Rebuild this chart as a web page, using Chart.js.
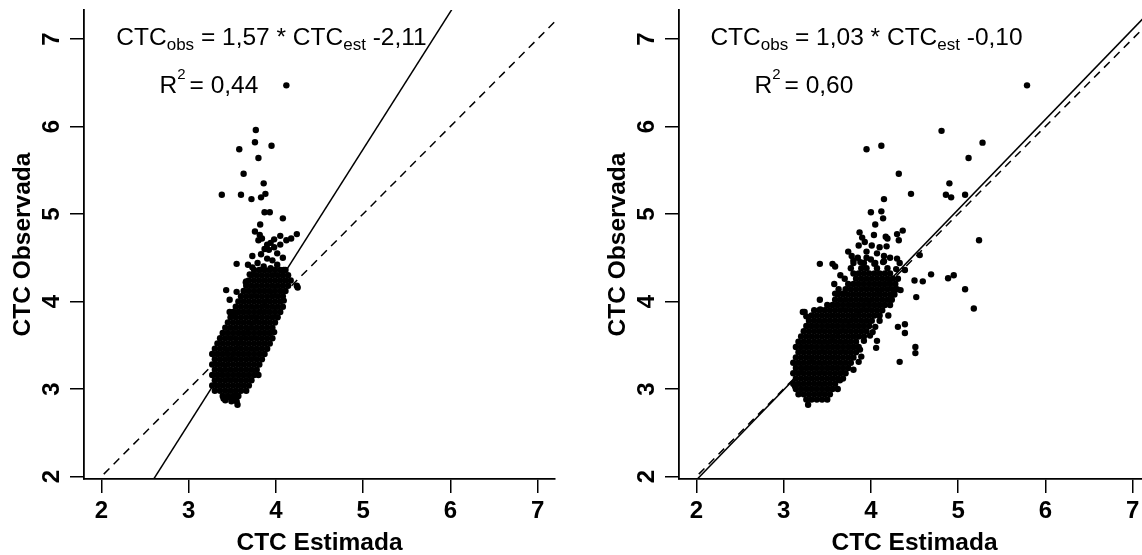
<!DOCTYPE html>
<html><head><meta charset="utf-8">
<script src="https://cdn.jsdelivr.net/npm/chart.js@4.4.0/dist/chart.umd.min.js"></script>
<style>
html,body{margin:0;padding:0;background:#fff;width:1142px;height:555px;overflow:hidden;}
.panel{position:absolute;top:0;width:600px;height:555px;}
#p1{left:0px} #p2{left:595px}
</style></head><body>
<div class="panel" id="p1"><canvas id="c1" width="600" height="555"></canvas></div>
<div class="panel" id="p2"><canvas id="c2" width="600" height="555"></canvas></div>
<script>
// ---- tick labels / titles ----
const xTicks = [2, 3, 4, 5, 6, 7];
const yTicks = [2, 3, 4, 5, 6, 7];
const xTitle = 'CTC Estimada';
const yTitle = 'CTC Observada';
const xRange = [1.8, 7.2];
const yRange = [1.971, 7.331];

// ---- regression fits (left, right) ----
const fitSlopes = [1.57, 1.03];
const fitIntercepts = [-2.11, -0.10];
const slopeLabels = ['1,57', '1,03'];
const interceptLabels = ['-2,11', '-0,10'];
const r2Labels = ['0,44', '0,60'];
const eqPos = [3.95, 6.928];
const r2Pos = [3.232, 6.386];

// ---- left panel points [CTC estimada, CTC observada] ----
const leftPoints = [
[4.12,6.47],[3.77,5.96],[3.76,5.82],[3.58,5.74],[3.95,5.78],[3.80,5.64],[3.63,5.46],[3.86,5.35],
[3.38,5.22],[3.60,5.22],[3.72,5.17],[3.83,5.19],[3.88,5.23],[3.87,5.02],[3.93,5.02],[4.08,4.95],[3.82,4.88],
[3.76,4.80],[3.815,4.76],[3.84,4.72],[3.80,4.70],[4.24,4.77],[4.175,4.72],[4.12,4.70],[4.05,4.75],[3.98,4.71],
[3.90,4.65],[3.94,4.67],[3.98,4.62],[4.05,4.65],[3.92,4.59],[4.015,4.55],[3.73,4.52],[3.83,4.54],[3.90,4.49],
[3.96,4.47],[3.55,4.43],[3.68,4.42],[3.73,4.39],[3.79,4.44],[3.86,4.40],[3.94,4.38],[4.015,4.42],[4.09,4.36],
[3.70,4.31],[3.655,4.22],[3.87,4.60],[4.08,4.50],
[3.47,4.02],[3.55,4.11],[3.47,3.88],[3.52,3.87],[3.66,4.23],[4.25,4.16],[4.24,4.18],[3.40,2.89],[3.48,2.90],
[3.54,2.92],[3.80,3.16],[3.43,4.13],[3.56,2.82],[3.42,2.87],[3.49,2.86],[3.55,2.86],
[3.39,2.92],[3.45,2.92],[3.51,2.92],[3.57,2.92],
[3.30,2.98],[3.36,2.98],[3.42,2.98],[3.48,2.98],[3.54,2.98],[3.60,2.98],[3.66,2.98],
[3.27,3.04],[3.33,3.04],[3.39,3.04],[3.45,3.04],[3.51,3.04],[3.57,3.04],[3.63,3.04],[3.69,3.04],
[3.30,3.10],[3.36,3.10],[3.42,3.10],[3.48,3.10],[3.54,3.10],[3.60,3.10],[3.66,3.10],[3.72,3.10],
[3.27,3.16],[3.33,3.16],[3.39,3.16],[3.45,3.16],[3.51,3.16],[3.57,3.16],[3.63,3.16],[3.69,3.16],[3.75,3.16],
[3.30,3.22],[3.36,3.22],[3.42,3.22],[3.48,3.22],[3.54,3.22],[3.60,3.22],[3.66,3.22],[3.72,3.22],[3.78,3.22],
[3.27,3.28],[3.33,3.28],[3.39,3.28],[3.45,3.28],[3.51,3.28],[3.57,3.28],[3.63,3.28],[3.69,3.28],[3.75,3.28],[3.81,3.28],
[3.30,3.34],[3.36,3.34],[3.42,3.34],[3.48,3.34],[3.54,3.34],[3.60,3.34],[3.66,3.34],[3.72,3.34],[3.78,3.34],[3.84,3.34],
[3.27,3.40],[3.33,3.40],[3.39,3.40],[3.45,3.40],[3.51,3.40],[3.57,3.40],[3.63,3.40],[3.69,3.40],[3.75,3.40],[3.81,3.40],[3.87,3.40],
[3.30,3.46],[3.36,3.46],[3.42,3.46],[3.48,3.46],[3.54,3.46],[3.60,3.46],[3.66,3.46],[3.72,3.46],[3.78,3.46],[3.84,3.46],[3.90,3.46],
[3.33,3.52],[3.39,3.52],[3.45,3.52],[3.51,3.52],[3.57,3.52],[3.63,3.52],[3.69,3.52],[3.75,3.52],[3.81,3.52],[3.87,3.52],[3.93,3.52],
[3.36,3.58],[3.42,3.58],[3.48,3.58],[3.54,3.58],[3.60,3.58],[3.66,3.58],[3.72,3.58],[3.78,3.58],[3.84,3.58],[3.90,3.58],[3.96,3.58],
[3.39,3.64],[3.45,3.64],[3.51,3.64],[3.57,3.64],[3.63,3.64],[3.69,3.64],[3.75,3.64],[3.81,3.64],[3.87,3.64],[3.93,3.64],[3.98,3.65],
[3.42,3.70],[3.48,3.70],[3.54,3.70],[3.60,3.70],[3.66,3.70],[3.72,3.70],[3.78,3.70],[3.84,3.70],[3.90,3.70],[3.96,3.70],
[3.45,3.76],[3.51,3.76],[3.57,3.76],[3.63,3.76],[3.69,3.76],[3.75,3.76],[3.81,3.76],[3.87,3.76],[3.93,3.76],[3.99,3.76],
[3.48,3.82],[3.54,3.82],[3.60,3.82],[3.66,3.82],[3.72,3.82],[3.78,3.82],[3.84,3.82],[3.90,3.82],[3.96,3.82],[4.02,3.82],
[3.51,3.88],[3.57,3.88],[3.63,3.88],[3.69,3.88],[3.75,3.88],[3.81,3.88],[3.87,3.88],[3.93,3.88],[3.99,3.88],[4.05,3.88],
[3.54,3.94],[3.60,3.94],[3.66,3.94],[3.72,3.94],[3.78,3.94],[3.84,3.94],[3.90,3.94],[3.96,3.94],[4.02,3.94],[4.08,3.94],
[3.57,4.00],[3.63,4.00],[3.69,4.00],[3.75,4.00],[3.81,4.00],[3.87,4.00],[3.93,4.00],[3.99,4.00],[4.05,4.00],[4.09,4.01],
[3.60,4.06],[3.66,4.06],[3.72,4.06],[3.78,4.06],[3.84,4.06],[3.90,4.06],[3.96,4.06],[4.02,4.06],[4.08,4.06],
[3.63,4.12],[3.69,4.12],[3.75,4.12],[3.81,4.12],[3.87,4.12],[3.93,4.12],[3.99,4.12],[4.05,4.12],[4.11,4.12],
[3.66,4.18],[3.72,4.18],[3.78,4.18],[3.84,4.18],[3.90,4.18],[3.96,4.18],[4.02,4.18],[4.08,4.18],[4.14,4.18],
[3.69,4.24],[3.75,4.24],[3.81,4.24],[3.87,4.24],[3.93,4.24],[3.99,4.24],[4.05,4.24],[4.11,4.24],[4.17,4.24],
[3.72,4.30],[3.78,4.30],[3.84,4.30],[3.90,4.30],[3.96,4.30],[4.02,4.30],[4.08,4.30],[4.14,4.30],
[3.75,4.36],[3.81,4.36],[3.87,4.36],[3.93,4.36],[3.99,4.36],[4.05,4.36],[4.11,4.36]
];

// ---- right panel points [CTC estimada, CTC observada] ----
const rightPoints = [
[5.79,6.47],[4.81,5.95],[5.28,5.815],[3.95,5.74],[4.12,5.78],[5.12,5.64],[4.32,5.46],[4.90,5.35],[4.46,5.23],
[4.86,5.22],[4.92,5.19],[5.08,5.22],[4.15,5.17],[4.00,5.02],[4.12,5.03],[4.14,4.95],[4.05,4.88],[5.24,4.70],
[3.87,4.79],[3.90,4.73],[4.035,4.76],[4.17,4.74],[4.19,4.72],[4.30,4.77],[4.365,4.81],[4.32,4.70],[3.74,4.57],
[3.78,4.52],[4.56,4.53],[3.415,4.43],[3.56,4.43],[3.59,4.40],[4.30,4.49],[4.33,4.44],[4.39,4.36],[4.69,4.31],
[4.50,4.24],[4.595,4.23],[4.885,4.265],[4.95,4.30],[5.08,4.14],[4.52,4.05],[5.18,3.92],[4.34,4.13],[4.39,3.74],
[4.31,3.71],[4.39,3.64],[4.51,3.48],[4.51,3.41],[4.33,3.31],[4.06,3.47],[3.89,3.37],[3.875,3.45],[3.80,3.22],
[3.645,3.10],[3.13,3.03],[3.24,3.88],[3.26,3.83],[3.68,4.09],[3.28,2.82],
[3.86,4.64],[3.93,4.68],[4.01,4.64],[4.10,4.62],[4.18,4.63],[3.95,4.57],[4.07,4.55],[4.15,4.52],[4.22,4.50],
[3.85,4.50],[4.00,4.48],[3.80,4.47],[3.88,4.45],[3.95,4.50],[4.05,4.44],[4.15,4.46],[3.65,4.30],[3.70,4.26],
[3.58,4.20],[3.63,4.14],[3.42,3.91],[3.22,3.88],[3.415,4.02],[3.59,4.09],
[3.26,2.88],[3.32,2.88],[3.38,2.88],[3.44,2.88],[3.50,2.88],
[3.17,2.94],[3.23,2.94],[3.29,2.94],[3.35,2.94],[3.41,2.94],[3.47,2.94],[3.53,2.94],
[3.14,3.00],[3.20,3.00],[3.26,3.00],[3.32,3.00],[3.38,3.00],[3.44,3.00],[3.50,3.00],[3.56,3.00],[3.62,3.00],
[3.11,3.06],[3.17,3.06],[3.23,3.06],[3.29,3.06],[3.35,3.06],[3.41,3.06],[3.47,3.06],[3.53,3.06],[3.59,3.06],
[3.14,3.12],[3.20,3.12],[3.26,3.12],[3.32,3.12],[3.38,3.12],[3.44,3.12],[3.50,3.12],[3.56,3.12],[3.62,3.12],[3.68,3.12],
[3.11,3.18],[3.17,3.18],[3.23,3.18],[3.29,3.18],[3.35,3.18],[3.41,3.18],[3.47,3.18],[3.53,3.18],[3.59,3.18],[3.65,3.18],[3.71,3.18],
[3.14,3.24],[3.20,3.24],[3.26,3.24],[3.32,3.24],[3.38,3.24],[3.44,3.24],[3.50,3.24],[3.56,3.24],[3.62,3.24],[3.68,3.24],[3.74,3.24],
[3.11,3.30],[3.17,3.30],[3.23,3.30],[3.29,3.30],[3.35,3.30],[3.41,3.30],[3.47,3.30],[3.53,3.30],[3.59,3.30],[3.65,3.30],[3.71,3.30],[3.77,3.30],[3.86,3.31],
[3.14,3.36],[3.20,3.36],[3.26,3.36],[3.32,3.36],[3.38,3.36],[3.44,3.36],[3.50,3.36],[3.56,3.36],[3.62,3.36],[3.68,3.36],[3.74,3.36],[3.80,3.36],
[3.17,3.42],[3.23,3.42],[3.29,3.42],[3.35,3.42],[3.41,3.42],[3.47,3.42],[3.53,3.42],[3.59,3.42],[3.65,3.42],[3.71,3.42],[3.77,3.42],[3.83,3.42],
[3.14,3.48],[3.20,3.48],[3.26,3.48],[3.32,3.48],[3.38,3.48],[3.44,3.48],[3.50,3.48],[3.56,3.48],[3.62,3.48],[3.68,3.48],[3.74,3.48],[3.80,3.48],[3.86,3.48],
[3.17,3.54],[3.23,3.54],[3.29,3.54],[3.35,3.54],[3.41,3.54],[3.47,3.54],[3.53,3.54],[3.59,3.54],[3.65,3.54],[3.71,3.54],[3.77,3.54],[3.83,3.54],[3.92,3.55],[4.07,3.55],
[3.20,3.60],[3.26,3.60],[3.32,3.60],[3.38,3.60],[3.44,3.60],[3.50,3.60],[3.56,3.60],[3.62,3.60],[3.68,3.60],[3.74,3.60],[3.80,3.60],[3.86,3.60],[3.92,3.60],[3.99,3.61],
[3.23,3.66],[3.29,3.66],[3.35,3.66],[3.41,3.66],[3.47,3.66],[3.53,3.66],[3.59,3.66],[3.65,3.66],[3.71,3.66],[3.77,3.66],[3.83,3.66],[3.89,3.66],[3.95,3.66],[4.02,3.65],
[3.26,3.72],[3.32,3.72],[3.38,3.72],[3.44,3.72],[3.50,3.72],[3.56,3.72],[3.62,3.72],[3.68,3.72],[3.74,3.72],[3.80,3.72],[3.86,3.72],[3.92,3.72],[3.98,3.72],[4.05,3.71],
[3.29,3.78],[3.35,3.78],[3.41,3.78],[3.47,3.78],[3.53,3.78],[3.59,3.78],[3.65,3.78],[3.71,3.78],[3.77,3.78],[3.83,3.78],[3.89,3.78],[3.95,3.78],[4.01,3.78],[4.10,3.78],
[3.32,3.84],[3.38,3.84],[3.44,3.84],[3.50,3.84],[3.56,3.84],[3.62,3.84],[3.68,3.84],[3.74,3.84],[3.80,3.84],[3.86,3.84],[3.92,3.84],[3.98,3.84],[4.04,3.84],[4.10,3.84],[4.20,3.84],
[3.35,3.90],[3.41,3.90],[3.47,3.90],[3.53,3.90],[3.59,3.90],[3.65,3.90],[3.71,3.90],[3.77,3.90],[3.83,3.90],[3.89,3.90],[3.95,3.90],[4.01,3.90],[4.07,3.90],[4.13,3.90],
[3.50,3.96],[3.56,3.96],[3.62,3.96],[3.68,3.96],[3.74,3.96],[3.80,3.96],[3.86,3.96],[3.92,3.96],[3.98,3.96],[4.04,3.96],[4.10,3.96],[4.16,3.96],[4.22,3.96],
[3.59,4.02],[3.65,4.02],[3.71,4.02],[3.77,4.02],[3.83,4.02],[3.89,4.02],[3.95,4.02],[4.01,4.02],[4.07,4.02],[4.13,4.02],[4.19,4.02],[4.24,4.02],
[3.62,4.08],[3.68,4.08],[3.74,4.08],[3.80,4.08],[3.86,4.08],[3.92,4.08],[3.98,4.08],[4.04,4.08],[4.10,4.08],[4.16,4.08],[4.22,4.08],[4.27,4.08],
[3.71,4.14],[3.77,4.14],[3.83,4.14],[3.89,4.14],[3.95,4.14],[4.01,4.14],[4.07,4.14],[4.13,4.14],[4.19,4.14],[4.25,4.14],[4.30,4.14],
[3.74,4.20],[3.80,4.20],[3.86,4.20],[3.92,4.20],[3.98,4.20],[4.04,4.20],[4.10,4.20],[4.16,4.20],[4.22,4.20],[4.28,4.20],
[3.83,4.26],[3.89,4.26],[3.95,4.26],[4.01,4.26],[4.07,4.26],[4.13,4.26],[4.19,4.26],[4.25,4.26],[4.31,4.26],
[3.80,4.32],[3.86,4.32],[3.92,4.32],[3.98,4.32],[4.04,4.32],[4.10,4.32],[4.16,4.32],[4.22,4.32],
[3.77,4.38],[3.89,4.38],[3.95,4.38],[4.07,4.38],[4.19,4.38],[4.29,4.37],
[3.80,4.44],[3.92,4.44],[4.04,4.43],[4.14,4.45]
];

const FONT = '"Liberation Sans", Arial, Helvetica, sans-serif';
Chart.defaults.font.family = FONT;
Chart.defaults.color = '#000';

function drawRuns(ctx, runs, cx, by) {
  let total = 0;
  runs.forEach(r => {
    if (r.t === undefined) { r.w = r.gap; }
    else { ctx.font = r.size + 'px ' + FONT; r.w = ctx.measureText(r.t).width; }
    total += r.w;
  });
  let x = cx - total / 2;
  ctx.fillStyle = '#000';
  ctx.textAlign = 'left';
  ctx.textBaseline = 'alphabetic';
  runs.forEach(r => {
    if (r.t !== undefined) {
      ctx.font = r.size + 'px ' + FONT;
      ctx.fillText(r.t, x, by + (r.dy || 0));
    }
    x += r.w;
  });
}

function annotationPlugin(i) {
  return {
    id: 'eqText' + i,
    afterDatasetsDraw(chart) {
      const xs = chart.scales.x, ys = chart.scales.y, ctx = chart.ctx;
      ctx.save();
      drawRuns(ctx, [
        {t: 'CTC', size: 24.5},
        {t: 'obs', size: 17, dy: 5},
        {t: ' = ' + slopeLabels[i] + ' * CTC', size: 24.5},
        {t: 'est', size: 17, dy: 5},
        {t: ' ' + interceptLabels[i], size: 24.5}
      ], xs.getPixelForValue(eqPos[0]), ys.getPixelForValue(eqPos[1]));
      drawRuns(ctx, [
        {t: 'R', size: 24.5},
        {t: '2', size: 15, dy: -14},
        {gap: 4},
        {t: '=', size: 24.5},
        {t: ' ' + r2Labels[i], size: 24.5}
      ], xs.getPixelForValue(r2Pos[0]), ys.getPixelForValue(r2Pos[1]));
      ctx.restore();
    }
  };
}

function makePanel(id, pts, i) {
  const lineX = [xRange[0], xRange[1]];
  new Chart(document.getElementById(id), {
    type: 'scatter',
    data: {
      datasets: [
        {
          data: pts.map(p => ({x: p[0], y: p[1]})),
          pointRadius: 3.2, pointHoverRadius: 3.2,
          pointBackgroundColor: '#000', pointBorderWidth: 0, pointBorderColor: '#000',
          showLine: false
        },
        {
          data: lineX.map(x => ({x: x, y: fitSlopes[i] * x + fitIntercepts[i]})),
          showLine: true, borderColor: '#000', borderWidth: 1.5, pointRadius: 0
        },
        {
          data: lineX.map(x => ({x: x, y: x})),
          showLine: true, borderColor: '#000', borderWidth: 1.5, borderDash: [8, 6], pointRadius: 0
        }
      ]
    },
    options: {
      responsive: false, animation: false, events: [],
      layout: {padding: {left: 0, right: 45, top: 10, bottom: 0}},
      plugins: {legend: {display: false}, tooltip: {enabled: false}},
      scales: {
        x: {
          type: 'linear', position: 'bottom', min: xRange[0], max: xRange[1],
          afterBuildTicks: s => { s.ticks = xTicks.map(v => ({value: v})); },
          afterFit: s => { s.height = 76; s.paddingLeft = 0; s.paddingRight = 0; },
          grid: {drawOnChartArea: false, drawTicks: true, tickLength: 14, color: '#000', lineWidth: 1.5},
          border: {display: true, color: '#000', width: 1.8},
          ticks: {color: '#000', font: {family: FONT, size: 24, weight: 'bold'}, padding: 4, autoSkip: false, maxRotation: 0},
          title: {display: true, text: xTitle, color: '#000', font: {family: FONT, size: 24.5, weight: 'bold', lineHeight: 1}, padding: 0}
        },
        y: {
          type: 'linear', position: 'left', min: yRange[0], max: yRange[1],
          afterBuildTicks: s => { s.ticks = yTicks.map(v => ({value: v})); },
          afterFit: s => { s.width = 84; s.paddingTop = 0; s.paddingBottom = 0; },
          grid: {drawOnChartArea: false, drawTicks: true, tickLength: 14, color: '#000', lineWidth: 1.5},
          border: {display: true, color: '#000', width: 1.8},
          ticks: {color: '#000', font: {family: FONT, size: 24, weight: 'bold'}, padding: 11, autoSkip: false,
                  minRotation: 90, maxRotation: 90, crossAlign: 'center'},
          title: {display: true, text: yTitle, color: '#000', font: {family: FONT, size: 24.5, weight: 'bold', lineHeight: 1}, padding: {top: 10.5, bottom: 0}}
        }
      }
    },
    plugins: [annotationPlugin(i)]
  });
}

makePanel('c1', leftPoints, 0);
makePanel('c2', rightPoints, 1);
</script>
</body></html>
